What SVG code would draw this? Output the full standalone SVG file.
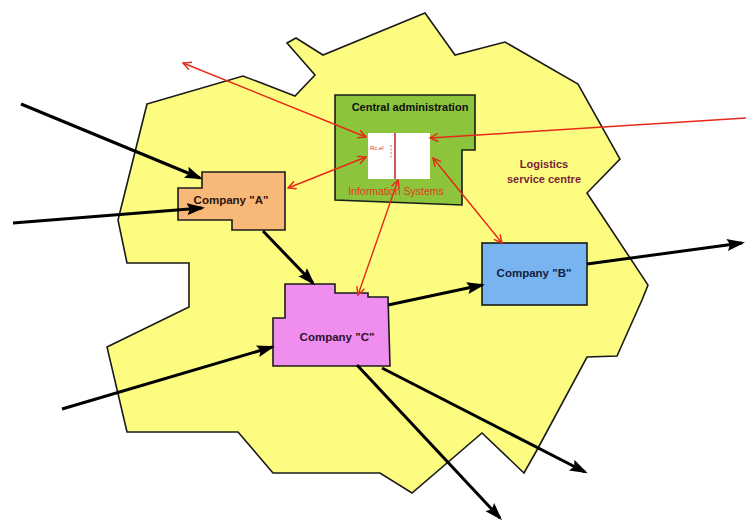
<svg xmlns="http://www.w3.org/2000/svg" width="746" height="520" viewBox="0 0 746 520">
<defs>
<marker id="ab" markerUnits="userSpaceOnUse" markerWidth="18" markerHeight="12" refX="15" refY="6" orient="auto">
<path d="M0,0 L18,6 L0,12 L3,6 z" fill="#000"/>
</marker>
<marker id="ar" markerUnits="userSpaceOnUse" markerWidth="10" markerHeight="10" refX="8.5" refY="4.5" orient="auto-start-reverse">
<path d="M0.5,0.5 L8.5,4.5 L0.5,8.5" fill="none" stroke="#e82818" stroke-width="1.4"/>
</marker>
<style>
.shape{stroke:#1a1a1a;stroke-width:1.6;stroke-linejoin:miter}
.blk{stroke:#000;stroke-width:3;fill:none;marker-end:url(#ab)}
.red{stroke:#e82818;stroke-width:1.4;fill:none}
.two{marker-start:url(#ar);marker-end:url(#ar)}
.one{marker-end:url(#ar)}
.lbl{font-family:"Liberation Sans",Arial,sans-serif;font-weight:bold;font-size:11.5px;text-anchor:middle}
</style>
</defs>
<rect width="746" height="520" fill="#fff"/>
<g id="logistics-centre">
<polygon class="shape" fill="#fcfc80" points="147,104 243,76 295,96 315,75 287,43 296,38 323,55 425,13 455,55 505,42 578,84 620,159 587,193 648,285 642,300 617,356 587,357 537,450 524,473 482,433 412,493 380,473 273,473 238,432 127,432 107,347 189,307 189,263 127,263 118,220"/>
<text x="544" y="168" class="lbl" fill="#7a1f3a" style="font-size:11px">Logistics</text>
<text x="544" y="183" class="lbl" fill="#7a1f3a" style="font-size:11px">service centre</text>
</g>
<g id="central-administration">
<polygon class="shape" fill="#8cc43c" points="335,95 475,95 475,150 462,150 462,205 335,200"/>
<text x="410" y="111" class="lbl" fill="#111" style="font-size:11px">Central administration</text>
<rect x="368" y="133" width="62" height="46" fill="#fff"/>
<line x1="395" y1="133" x2="395" y2="179" stroke="#c0202a" stroke-width="1.5"/>
<line x1="391" y1="145" x2="391" y2="158" stroke="#e04040" stroke-width="0.8" stroke-dasharray="2,1.5"/>
<text x="370" y="150" font-family="Liberation Sans,Arial,sans-serif" font-size="6" fill="#e04040">Rc.el</text>
<text x="396" y="195" font-family="Liberation Sans,Arial,sans-serif" font-size="10.5" fill="#e03a1c" text-anchor="middle">Information Systems</text>
</g>
<g id="company-a">
<polygon class="shape" fill="#f8b878" points="202,172 285,172 285,230 232,230 232,220 178,220 178,188 202,188"/>
<text x="231" y="204" class="lbl" fill="#2a1410">Company "A"</text>
</g>
<g id="company-c">
<polygon class="shape" fill="#f08ef0" points="285,284 335,284 335,293 368,293 368,297 388,297 390,366 273,366 273,318 285,318"/>
<text x="337" y="341" class="lbl" fill="#2a102a">Company "C"</text>
</g>
<g id="company-b">
<rect class="shape" x="482" y="243" width="105" height="62" fill="#78b4f0"/>
<text x="534" y="277" class="lbl" fill="#102040">Company "B"</text>
</g>
<g id="connectors">
<line class="blk" x1="21" y1="104" x2="200" y2="178"/>
<line class="blk" x1="13" y1="223" x2="202" y2="208"/>
<line class="blk" x1="263" y1="231" x2="313" y2="283"/>
<line class="blk" x1="62" y1="409" x2="272" y2="347"/>
<line class="blk" x1="388" y1="305" x2="482" y2="285"/>
<line class="blk" x1="587" y1="264" x2="742" y2="243"/>
<line class="blk" x1="382" y1="368" x2="585" y2="472"/>
<line class="blk" x1="357" y1="365" x2="500" y2="518"/>
<line class="red two" x1="183" y1="63" x2="366" y2="137"/>
<line class="red two" x1="288" y1="188" x2="366" y2="157"/>
<line class="red one" x1="746" y1="118" x2="430" y2="138"/>
<line class="red two" x1="398" y1="180" x2="358" y2="295"/>
<line class="red two" x1="433" y1="158" x2="502" y2="243"/>
</g>
</svg>
